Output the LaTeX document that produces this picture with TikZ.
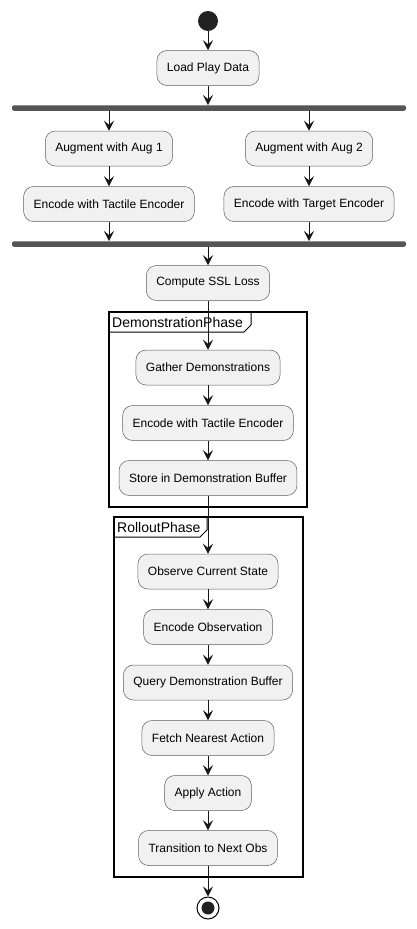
\documentclass[tikz,border=0pt]{standalone}
\usepackage{fontspec}
\setmainfont{Liberation Sans}
\usetikzlibrary{arrows.meta}
\definecolor{boxfill}{HTML}{F1F1F1}
\definecolor{boxline}{HTML}{181818}
\definecolor{barfill}{HTML}{555555}
\definecolor{dotfill}{HTML}{222222}
\begin{document}
\begin{tikzpicture}[x=1pt,y=-1pt,
  act/.style={draw=boxline!70, line width=0.5pt, fill=boxfill, rounded corners=10pt,
    minimum height=35pt, inner xsep=10pt, font=\fontsize{12}{14}\selectfont},
  bar/.style={fill=barfill, draw=none, rounded corners=2pt, minimum width=394pt,
    minimum height=5.5pt, inner sep=0pt},
  arr/.style={draw=boxline, line width=1pt, -{Stealth[length=10pt,width=10pt,inset=4pt]}},
  frm/.style={draw=black, line width=1.5pt},
  frmlbl/.style={anchor=west, inner sep=0pt, font=\fontsize{14}{16}\selectfont}
]
\useasboundingbox (0,0) rectangle (416,929);

% start
\node[circle, fill=dotfill, minimum size=20pt, inner sep=0pt] (start) at (208,21) {};
\node[act] (load) at (208,68) {Load Play Data};
\node[bar] (fork) at (209,108) {};
\node[act] (aug1) at (109,148.5) {Augment with Aug 1};
\node[act] (aug2) at (309,148.5) {Augment with Aug 2};
\node[act] (enc1) at (109,204) {Encode with Tactile Encoder};
\node[act] (enc2) at (309,204) {Encode with Target Encoder};
\node[bar] (join) at (209,244) {};
\node[act] (ssl) at (208,283) {Compute SSL Loss};

% Demonstration phase frame
\draw[frm] (109,312) rectangle (307,507);
\draw[frm, line width=1pt] (109,332) -- (244,332) -- (251,325) -- (251,312);
\node[frmlbl] (demolbl) at (112,322.5) {DemonstrationPhase};
\node[act] (gather) at (208,367.5) {Gather Demonstrations};
\node[act] (denc) at (208,423) {Encode with Tactile Encoder};
\node[act] (store) at (208,478) {Store in Demonstration Buffer};

% Rollout phase frame
\draw[frm] (114,517) rectangle (303,877);
\draw[frm, line width=1pt] (114,537) -- (200,537) -- (207,530) -- (207,517);
\node[frmlbl] (rolllbl) at (117,527.5) {RolloutPhase};
\node[act] (observe) at (208,571.5) {Observe Current State};
\node[act] (encobs) at (208,627) {Encode Observation};
\node[act] (query) at (208,682.5) {Query Demonstration Buffer};
\node[act] (fetch) at (208,738) {Fetch Nearest Action};
\node[act] (apply) at (208,793) {Apply Action};
\node[act] (trans) at (208,848) {Transition to Next Obs};

% end
\node[circle, draw=black, line width=1pt, fill=white, minimum size=22pt, inner sep=0pt] (stop) at (208,908) {};
\node[circle, fill=dotfill, minimum size=13pt, inner sep=0pt] (stopin) at (stop.center) {};

% connectors
\draw[arr] (start) -- (load);
\draw[arr] (load.south) -- (load.south |- fork.north);
\draw[arr] (aug1.north |- fork.south) -- (aug1.north);
\draw[arr] (aug2.north |- fork.south) -- (aug2.north);
\draw[arr] (aug1) -- (enc1);
\draw[arr] (aug2) -- (enc2);
\draw[arr] (enc1.south) -- (enc1.south |- join.north);
\draw[arr] (enc2.south) -- (enc2.south |- join.north);
\draw[arr] (ssl.north |- join.south) -- (ssl.north);
\draw[arr] (ssl) -- (gather);
\draw[arr] (gather) -- (denc);
\draw[arr] (denc) -- (store);
\draw[arr] (store) -- (observe);
\draw[arr] (observe) -- (encobs);
\draw[arr] (encobs) -- (query);
\draw[arr] (query) -- (fetch);
\draw[arr] (fetch) -- (apply);
\draw[arr] (apply) -- (trans);
\draw[arr] (trans) -- (stop);
\end{tikzpicture}
\end{document}
